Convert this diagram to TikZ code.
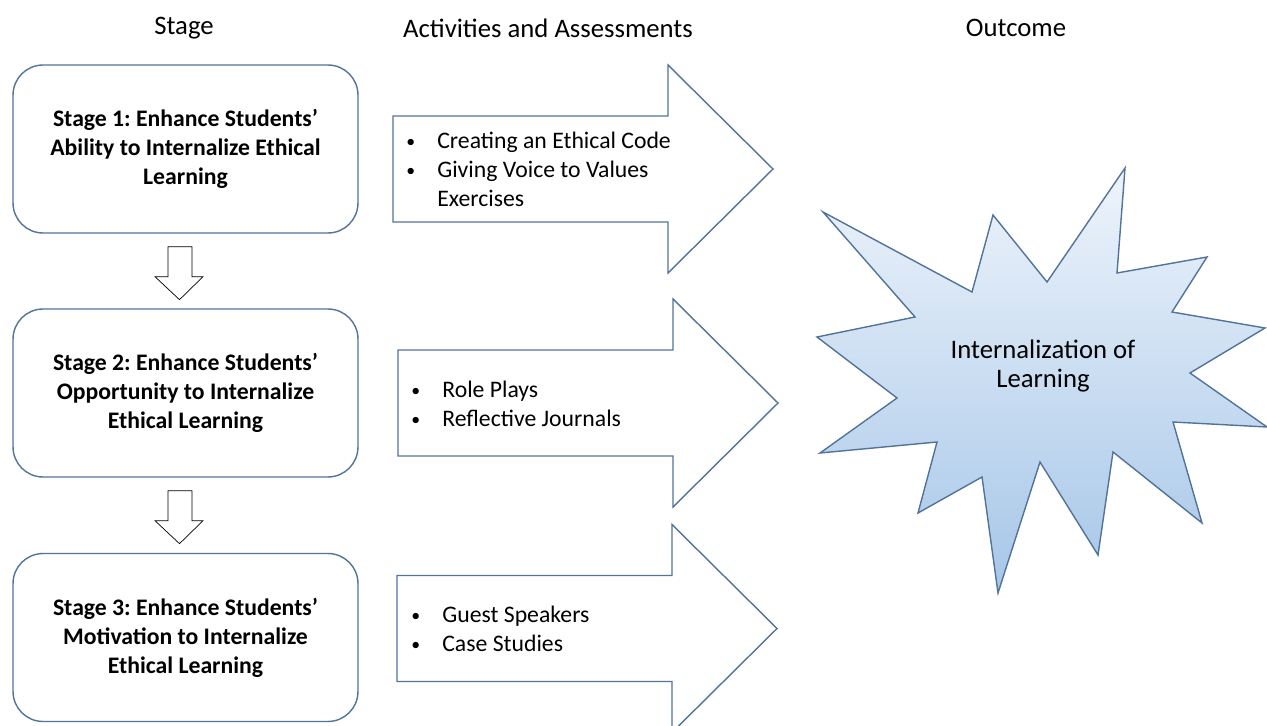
\documentclass[tikz,border=0pt]{standalone}
\usepackage{fontspec}
\setmainfont{Carlito}
\usepackage{tikz}
\usetikzlibrary{calc}
\definecolor{bordcol}{HTML}{52739A}
\definecolor{starlt}{HTML}{EEF4FB}
\definecolor{stardk}{HTML}{A6C6E8}
\newcommand{\bul}{\makebox[0.62cm][l]{\raisebox{0.1ex}{\scalebox{0.75}{\textbullet}}}}
\frenchspacing

\begin{document}
\begin{tikzpicture}[x=0.02cm,y=-0.02cm,
    every node/.style={font=\fontsize{13.5}{16.5}\selectfont},
    headtxt/.style={font=\fontsize{15.2}{16.5}\selectfont},
    stagebox/.style={draw=bordcol,thick,rounded corners=0.6cm,minimum width=6.9cm,minimum height=3.36cm,align=center,font=\fontsize{13.5}{16.5}\selectfont\bfseries},
    blockarr/.style={draw=bordcol,thick,fill=white},
    downarr/.style={draw=black,fill=white},
    itemlist/.style={anchor=west,align=left,inner sep=0pt}]
  \useasboundingbox (0,0) rectangle (1267,726);
  \clip (0,0) rectangle (1267,726);
  % column heads
  \node[headtxt] (h1) at (184,28) {Stage};
  \node[headtxt] (h2) at (548,28) {Activities and Assessments};
  \node[headtxt] (h3) at (1016,28) {Outcome};
  % stages
  \node[stagebox] (s1) at (185.5,149) {Stage 1: Enhance Students'\\Ability to Internalize Ethical\\Learning};
  \node[stagebox] (s2) at (185.5,393) {Stage 2: Enhance Students'\\Opportunity to Internalize\\Ethical Learning};
  \node[stagebox] (s3) at (185.5,637.5) {Stage 3: Enhance Students'\\Motivation to Internalize\\Ethical Learning};
  \foreach \n in {s1,s2}
    \draw[downarr,shift={(\n.south)}] (-17.5,13) -- (6.5,13) -- (6.5,43) -- (17.5,43) -- (-6,66) -- (-30.5,43) -- (-17.5,43) -- cycle;
  % activities
  \foreach \xl/\yc in {393/169,398/403,397/628.5}
    \draw[blockarr] (\xl,\yc-53) -- (\xl+275,\yc-53) -- (\xl+275,\yc-104) -- (\xl+380,\yc)
      -- (\xl+275,\yc+104) -- (\xl+275,\yc+53) -- (\xl,\yc+53) -- cycle;
  \node[itemlist] (a1) at (406,169.5) {\bul Creating an Ethical Code\\\bul Giving Voice to Values\\\hspace{0.62cm}Exercises};
  \node[itemlist] (a2) at (411,403.5) {\bul Role Plays\\\bul Reflective Journals};
  \node[itemlist] (a3) at (411,629) {\bul Guest Speakers\\\bul Case Studies};
  % outcome
  \draw[bordcol,thick,top color=starlt,bottom color=stardk]
    (1125,168) -- (1117,273) -- (1207,257) -- (1172,312) -- (1265,328) -- (1190,373)
    -- (1267,427) -- (1173,422) -- (1202,523) -- (1113,452) -- (1098,555) -- (1040,462)
    -- (998,593) -- (982,477) -- (918,513) -- (937,442) -- (820,453) -- (897,398)
    -- (817,337) -- (915,317) -- (823,212) -- (972,292) -- (993,215) -- (1047,282) -- cycle;
  \node[headtxt,align=center] (out) at (1043,366) {Internalization of\\Learning};
\end{tikzpicture}
\end{document}
